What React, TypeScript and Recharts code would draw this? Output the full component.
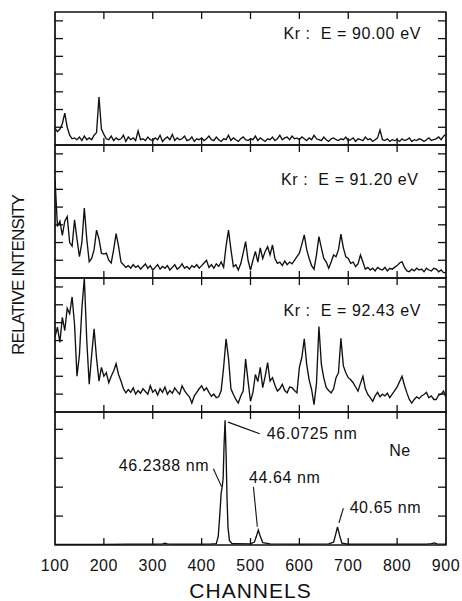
import React from 'react';
import { LineChart, Line, XAxis, YAxis, ReferenceDot, ReferenceLine, ReferenceArea } from 'recharts';

// channel grid for the three Kr spectra (every 5 channels)
const CHANNELS = [
  100, 105, 110, 115, 120, 125, 130, 135, 140, 145, 150, 155, 160, 165, 170, 175, 180, 185, 190, 195,
  200, 205, 210, 215, 220, 225, 230, 235, 240, 245, 250, 255, 260, 265, 270, 275, 280, 285, 290, 295,
  300, 305, 310, 315, 320, 325, 330, 335, 340, 345, 350, 355, 360, 365, 370, 375, 380, 385, 390, 395,
  400, 405, 410, 415, 420, 425, 430, 435, 440, 445, 450, 455, 460, 465, 470, 475, 480, 485, 490, 495,
  500, 505, 510, 515, 520, 525, 530, 535, 540, 545, 550, 555, 560, 565, 570, 575, 580, 585, 590, 595,
  600, 605, 610, 615, 620, 625, 630, 635, 640, 645, 650, 655, 660, 665, 670, 675, 680, 685, 690, 695,
  700, 705, 710, 715, 720, 725, 730, 735, 740, 745, 750, 755, 760, 765, 770, 775, 780, 785, 790, 795,
  800, 805, 810, 815, 820, 825, 830, 835, 840, 845, 850, 855, 860, 865, 870, 875, 880, 885, 890, 895,
  900,
];

const KR_90 = [
  0.95, 0.75, 0.9, 1.2, 1.8, 1.0, 0.55, 0.35, 0.4, 0.3, 0.45, 0.25, 0.5, 0.3, 0.4, 0.3, 0.55, 0.7, 2.7, 0.9,
  0.6, 0.35, 0.3, 0.5, 0.25, 0.4, 0.3, 0.35, 0.55, 0.2, 0.45, 0.3, 0.4, 0.25, 0.8, 0.3, 0.35, 0.25, 0.45, 0.3,
  0.25, 0.4, 0.3, 0.55, 0.2, 0.35, 0.45, 0.3, 0.6, 0.25, 0.4, 0.3, 0.35, 0.5, 0.25, 0.3, 0.45, 0.2, 0.35, 0.3,
  0.4, 0.25, 0.35, 0.5, 0.3, 0.25, 0.45, 0.3, 0.2, 0.35, 0.3, 0.55, 0.25, 0.4, 0.3, 0.2, 0.35, 0.45, 0.3, 0.25,
  0.35, 0.3, 0.5, 0.25, 0.4, 0.3, 0.2, 0.35, 0.3, 0.45, 0.25, 0.35, 0.55, 0.3, 0.4, 0.45, 0.3, 0.5, 0.35, 0.4,
  0.3, 0.45, 0.35, 0.25, 0.4, 0.3, 0.55, 0.35, 0.3, 0.25, 0.45, 0.3, 0.2, 0.35, 0.4, 0.3, 0.25, 0.35, 0.3, 0.45,
  0.25, 0.3, 0.4, 0.2, 0.35, 0.3, 0.25, 0.45, 0.3, 0.35, 0.2, 0.3, 0.4, 0.85, 0.3, 0.25, 0.35, 0.2, 0.3, 0.25,
  0.3, 0.2, 0.35, 0.25, 0.3, 0.4, 0.2, 0.3, 0.25, 0.35, 0.3, 0.2, 0.3, 0.4, 0.25, 0.3, 0.35, 0.45, 0.3, 0.5,
  0.6,
];

const KR_91 = [
  5.6, 2.9, 3.2, 2.4, 3.2, 3.46, 2.0, 1.8, 3.28, 2.2, 1.2, 2.0, 3.94, 2.2, 0.92, 1.1, 1.6, 2.7, 2.2, 1.4,
  1.35, 1.4, 1.0, 0.85, 1.6, 2.5, 1.8, 0.9, 0.75, 0.6, 0.7, 0.55, 0.75, 0.6, 0.7, 0.5, 0.65, 0.8, 0.55, 0.7,
  0.45, 0.6, 0.75, 0.5, 0.65, 0.55, 0.7, 0.45, 0.6, 0.75, 0.5, 0.6, 0.8, 0.55, 0.65, 0.5, 0.7, 0.6, 0.75, 0.55,
  0.7, 0.85, 1.0, 0.6, 0.75, 0.55, 0.8, 0.65, 0.9, 0.6, 1.8, 2.7, 1.6, 0.64, 0.75, 0.45, 0.8, 1.4, 2.05, 1.0,
  0.45, 1.0, 1.5, 0.9, 1.7, 1.1, 1.5, 1.77, 1.3, 1.86, 1.1, 0.83, 0.9, 0.7, 0.95, 0.75, 0.9, 0.8, 1.0, 1.2,
  1.4, 1.9, 2.43, 1.6, 1.1, 0.7, 0.5, 1.3, 2.33, 1.7, 1.1, 0.9, 0.55, 0.9, 1.3, 1.2, 1.6, 2.48, 1.7, 1.2,
  1.1, 0.83, 0.9, 0.64, 0.8, 1.3, 0.9, 0.5, 0.6, 0.45, 0.55, 0.4, 0.6, 0.5, 0.45, 0.6, 0.4, 0.55, 0.5, 0.6,
  0.7, 0.85, 0.92, 0.6, 0.4, 0.36, 0.5, 0.4, 0.55, 0.45, 0.5, 0.35, 0.55, 0.45, 0.4, 0.55, 0.5, 0.35, 0.45, 0.3,
  0.3,
];

const KR_92 = [
  4.2, 4.75, 3.9, 5.3, 4.56, 5.8, 5.5, 6.44, 4.9, 2.0, 3.2, 5.8, 7.5, 4.0, 1.55, 3.2, 4.65, 3.0, 1.73, 2.5,
  2.0, 2.2, 1.64, 2.0, 2.3, 2.7, 2.1, 1.73, 1.3, 1.07, 1.25, 1.1, 1.35, 1.0, 1.2, 1.05, 1.3, 1.15, 1.0, 1.47,
  1.1, 1.25, 0.95, 1.3, 1.1, 1.4, 1.0, 1.2, 1.05, 1.35, 1.15, 1.0, 1.47, 1.2, 1.0, 0.85, 0.5, 0.9, 1.1, 1.3,
  1.47, 1.2, 1.35, 1.1, 0.88, 1.0, 0.8, 0.85, 1.2, 2.5, 4.09, 3.0, 1.3, 0.98, 0.7, 0.5, 0.9, 1.17, 2.96, 1.73,
  0.6, 1.1, 2.1, 1.7, 2.5, 1.36, 2.0, 2.77, 1.73, 1.92, 1.5, 1.17, 1.3, 1.55, 1.2, 1.07, 1.4, 1.36, 1.2, 1.07,
  2.5, 3.05, 4.09, 2.67, 1.8, 1.26, 0.41, 1.6, 4.79, 2.67, 1.9, 1.36, 1.2, 1.07, 1.3, 1.92, 2.2, 4.12, 2.58, 2.2,
  1.92, 1.8, 1.64, 1.4, 1.17, 1.6, 2.0, 1.3, 0.98, 0.8, 0.6, 0.9, 1.1, 0.85, 1.0, 0.9, 1.05, 0.8, 1.0, 1.2,
  1.4, 1.7, 2.0, 1.5, 1.07, 0.7, 0.5, 0.7, 0.85, 0.75, 0.9, 0.98, 1.1, 0.8, 0.9, 0.7, 0.7, 0.95, 1.0, 1.17,
  0.8,
];

// Ne calibration spectrum (denser around the lines)
const NE_CH = [
  100, 150, 200, 250, 300, 320, 325, 330, 350, 400, 420, 430, 434, 437, 440, 442, 444, 446, 448, 450,
  452, 454, 457, 462, 470, 500, 508, 512, 516, 520, 525, 540, 600, 660, 670, 674, 678, 682, 687, 700,
  800, 860, 870, 876, 882, 900,
];
const NE = [
  0.02, 0.02, 0.02, 0.03, 0.03, 0.04, 0.06, 0.04, 0.03, 0.03, 0.04, 0.05, 0.3, 1.0, 1.8, 2.0, 2.3, 3.5, 4.31, 3.2,
  1.6, 0.6, 0.15, 0.05, 0.05, 0.04, 0.1, 0.3, 0.52, 0.3, 0.08, 0.04, 0.03, 0.04, 0.1, 0.35, 0.63, 0.35, 0.06, 0.03,
  0.03, 0.03, 0.05, 0.07, 0.04, 0.03,
];

const X_TICKS = [100, 200, 300, 400, 500, 600, 700, 800, 900];
const KR_TICKS = [1, 2, 3, 4, 5, 6, 7];
const NE_TICKS = [1, 2, 3, 4];
const KR_TITLES = ['Kr :  E = 90.00 eV', 'Kr :  E = 91.20 eV', 'Kr :  E = 92.43 eV'];
const NE_LINE_NAMES = ['46.0725 nm', '46.2388 nm', '44.64 nm', '40.65 nm'];

// annotation placement (data coordinates)
const KR_TITLE_POS = [
  [708, 6.31],
  [703, 5.54],
  [708, 5.69],
];
const NE_LABEL_POS = [
  { at: [626, 3.86], from: [454, 4.25], to: [519, 3.85] },
  { at: [323, 2.76], from: [424, 2.64], to: [441, 2.01] },
  { at: [570, 2.34], from: [506, 2.01], to: [514, 0.63] },
  { at: [776, 1.28], from: [690, 1.27], to: [681, 0.77] },
];

const INK = '#111';
const FONT = '"Liberation Sans", Arial, Helvetica, sans-serif';
const X_MIN = 100;
const X_MAX = 900;
const KR_MAX = 7.5;
const NE_MAX = 4.6;
const PLOT_H = 133;
const PLOT_W = 391;
const X_TICK_PX = 7;
const X_TICK_W = 1.3;

const toRows = (xs: number[], ys: number[]) => xs.map((ch, i) => ({ ch, v: ys[i] }));

const TextLabel = ({ viewBox, value, size }: any) => {
  const x = viewBox.x + (viewBox.width || 0) / 2;
  const y = viewBox.y + (viewBox.height || 0) / 2;
  return (
    <text
      x={x}
      y={y}
      textAnchor="middle"
      dominantBaseline="central"
      fontSize={size}
      fill={INK}
      letterSpacing={0.6}
      style={{ whiteSpace: 'pre', fontFamily: FONT }}
    >
      {value}
    </text>
  );
};

const BottomTick = ({ x, y, payload }: any) => (
  <text x={x} y={y} textAnchor="middle" fontSize={16} fill={INK} letterSpacing={0.6} style={{ fontFamily: FONT }}>
    {payload.value}
  </text>
);

const ChannelsLabel = ({ viewBox }: any) => (
  <text
    x={viewBox.x + viewBox.width / 2}
    y={viewBox.y + 53}
    textAnchor="middle"
    fontSize={21}
    fill={INK}
    letterSpacing={1}
    style={{ fontFamily: FONT }}
  >
    CHANNELS
  </text>
);

const blank = () => '';

function Panel({ top, height, rows, yMax, yTicks, last, children }: any) {
  // inward x ticks drawn as thin filled areas on the top and bottom edges
  const len = (X_TICK_PX * yMax) / PLOT_H;
  const half = ((X_TICK_W / 2) * (X_MAX - X_MIN)) / PLOT_W;
  const inner = X_TICKS.slice(1, -1);
  return (
    <div style={{ position: 'absolute', left: 0, top }}>
      <LineChart width={462} height={height} data={rows} margin={{ top: 1, right: 0, bottom: last ? 0 : 1, left: 0 }}>
        <XAxis
          xAxisId="bottom"
          type="number"
          dataKey="ch"
          domain={[X_MIN, X_MAX]}
          ticks={X_TICKS}
          height={last ? 56 : 0}
          tickLine={false}
          axisLine={false}
          tickMargin={last ? 19.5 : 0}
          tick={last ? <BottomTick /> : false}
          tickFormatter={last ? undefined : blank}
          allowDataOverflow
          label={last ? <ChannelsLabel /> : undefined}
        />
        <YAxis
          yAxisId="left"
          width={55}
          type="number"
          domain={[0, yMax]}
          ticks={yTicks}
          tickSize={-8}
          tickFormatter={blank}
          stroke={INK}
          strokeWidth={1.3}
          allowDataOverflow
        />
        <YAxis
          yAxisId="right"
          orientation="right"
          width={16}
          type="number"
          domain={[0, yMax]}
          ticks={yTicks}
          tickSize={-8}
          tickFormatter={blank}
          stroke={INK}
          strokeWidth={1.3}
          allowDataOverflow
        />
        <ReferenceArea
          xAxisId="bottom"
          yAxisId="left"
          x1={X_MIN}
          x2={X_MAX}
          y1={0}
          y2={yMax}
          fill="none"
          stroke={INK}
          strokeWidth={1.3}
          ifOverflow="visible"
        />
        {inner.map((t) => (
          <ReferenceArea
            key={'b' + t}
            xAxisId="bottom"
            yAxisId="left"
            x1={t - half}
            x2={t + half}
            y1={0}
            y2={len}
            fill={INK}
            fillOpacity={1}
            stroke="none"
            ifOverflow="visible"
          />
        ))}
        {inner.map((t) => (
          <ReferenceArea
            key={'t' + t}
            xAxisId="bottom"
            yAxisId="left"
            x1={t - half}
            x2={t + half}
            y1={yMax - len}
            y2={yMax}
            fill={INK}
            fillOpacity={1}
            stroke="none"
            ifOverflow="visible"
          />
        ))}
        <Line
          xAxisId="bottom"
          yAxisId="left"
          type="linear"
          dataKey="v"
          stroke={INK}
          strokeWidth={1.35}
          dot={false}
          isAnimationActive={false}
        />
        {children}
      </LineChart>
    </div>
  );
}

const titleDot = (i: number) => (
  <ReferenceDot
    xAxisId="bottom"
    yAxisId="left"
    x={KR_TITLE_POS[i][0]}
    y={KR_TITLE_POS[i][1]}
    r={1}
    fill="none"
    stroke="none"
    label={<TextLabel value={KR_TITLES[i]} size={16} />}
  />
);

export default function App() {
  const krSeries = [KR_90, KR_91, KR_92];
  const krTops = [11, 144, 277];
  const krHeights = [135, 135, 136];
  return (
    <div
      style={{
        position: 'absolute',
        left: 0,
        top: 0,
        width: 462,
        height: 601,
        background: '#fff',
        fontFamily: FONT,
        overflow: 'hidden',
      }}
    >
      {krSeries.map((s, i) => (
        <Panel
          key={i}
          top={krTops[i]}
          height={krHeights[i]}
          rows={toRows(CHANNELS, s)}
          yMax={KR_MAX}
          yTicks={KR_TICKS}
        >
          {titleDot(i)}
        </Panel>
      ))}
      <Panel top={411} height={190} rows={toRows(NE_CH, NE)} yMax={NE_MAX} yTicks={NE_TICKS} last>
        {NE_LABEL_POS.map((p, i) => (
          <ReferenceLine
            key={'l' + i}
            xAxisId="bottom"
            yAxisId="left"
            segment={[
              { x: p.from[0], y: p.from[1] },
              { x: p.to[0], y: p.to[1] },
            ]}
            stroke={INK}
            strokeWidth={1.1}
          />
        ))}
        {NE_LABEL_POS.map((p, i) => (
          <ReferenceDot
            key={'n' + i}
            xAxisId="bottom"
            yAxisId="left"
            x={p.at[0]}
            y={p.at[1]}
            r={1}
            fill="none"
            stroke="none"
            label={<TextLabel value={NE_LINE_NAMES[i]} size={16} />}
          />
        ))}
        <ReferenceDot
          xAxisId="bottom"
          yAxisId="left"
          x={806}
          y={3.28}
          r={1}
          fill="none"
          stroke="none"
          label={<TextLabel value="Ne" size={16} />}
        />
      </Panel>
      <div
        style={{
          position: 'absolute',
          left: 19 - 110,
          top: 275 - 11,
          width: 220,
          height: 22,
          lineHeight: '22px',
          textAlign: 'center',
          fontSize: 17,
          letterSpacing: -0.8,
          color: INK,
          transform: 'rotate(-90deg)',
          whiteSpace: 'nowrap',
        }}
      >
        RELATIVE INTENSITY
      </div>
    </div>
  );
}
